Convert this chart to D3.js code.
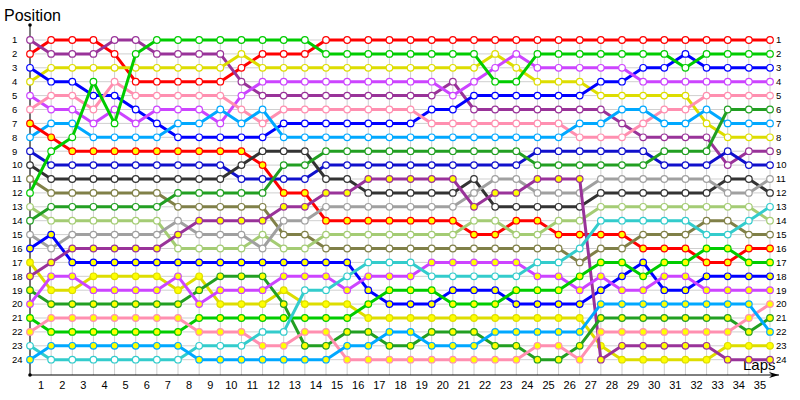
<!DOCTYPE html>
<html>
<head>
<meta charset="utf-8">
<script src="https://cdn.jsdelivr.net/npm/d3@7"></script>
<style>
  body { margin: 0; background: #fff; }
  svg { display: block; font-family: "Liberation Sans", Arial, sans-serif; }
</style>
</head>
<body>
<svg id="chart" width="800" height="400"></svg>
<script>
// position of each car at laps 0..35
var laps = [0,1,2,3,4,5,6,7,8,9,10,11,12,13,14,15,16,17,18,19,20,21,22,23,24,25,26,27,28,29,30,31,32,33,34,35];
var lapLabels = [1,2,3,4,5,6,7,8,9,10,11,12,13,14,15,16,17,18,19,20,21,22,23,24,25,26,27,28,29,30,31,32,33,34,35];
var positions = [1,2,3,4,5,6,7,8,9,10,11,12,13,14,15,16,17,18,19,20,21,22,23,24];

var red_a    = [2,1,1,1,2,4,4,4,4,4,3,2,2,2,1,1,1,1,1,1,1,1,1,1,1,1,1,1,1,1,1,1,1,1,1,1];
var purple_a = [1,2,2,2,1,1,2,2,2,2,4,5,5,5,5,5,5,5,5,5,4,6,6,6,6,6,6,6,7,8,8,8,8,10,9,9];
var yellow_a = [4,3,3,3,3,3,3,3,3,3,2,3,3,3,3,3,3,3,3,3,3,3,2,3,4,4,4,5,5,5,5,5,7,8,8,8];
var blue_a   = [3,4,4,5,5,6,7,8,8,8,8,8,7,7,7,7,7,7,7,6,6,5,5,5,5,5,5,4,4,3,3,2,3,3,3,3];
var violet_a = [5,6,6,7,6,7,6,6,6,7,5,4,4,4,4,4,4,4,4,4,5,4,3,2,3,3,3,3,3,4,4,4,4,4,4,4];
var pink_a   = [6,5,5,6,4,5,5,5,5,5,6,7,6,6,6,6,6,6,6,7,7,7,7,7,7,7,8,8,8,7,6,6,5,5,5,5];
var sky_a    = [8,7,7,8,8,8,8,7,7,6,7,6,8,8,8,8,8,8,8,8,8,8,8,8,8,8,7,7,6,6,7,7,6,7,7,7];
var red_b    = [7,8,9,9,9,9,9,9,9,9,9,10,12,12,14,14,14,14,14,14,14,15,15,14,14,15,15,15,15,16,16,16,17,17,16,16];
var navy_a   = [9,10,10,10,10,10,10,10,10,10,11,11,11,11,10,10,10,10,10,10,10,10,10,10,9,9,9,9,9,9,10,10,10,9,10,10];
var dark_a   = [10,11,11,11,11,11,11,11,11,11,10,9,9,9,11,11,12,12,12,12,12,11,13,13,13,13,13,12,12,12,12,12,12,11,11,12];
var olive_a  = [11,12,12,12,12,12,12,13,13,13,13,13,15,15,16,16,16,16,16,16,16,16,16,16,16,16,17,16,16,15,15,15,14,14,15,15];
var green_a  = [12,9,8,4,7,2,1,1,1,1,1,1,1,1,2,2,2,2,2,2,2,2,4,4,2,2,2,2,2,2,2,3,2,2,2,2];
var lime_a   = [13,14,14,14,14,14,14,16,16,16,16,15,16,16,15,15,15,15,15,15,15,14,14,15,15,14,14,13,13,13,13,13,13,13,13,14];
var dgreen_a = [14,13,13,13,13,13,13,12,12,12,12,12,10,10,9,9,9,9,9,9,9,9,9,9,10,10,10,10,10,10,9,9,9,6,6,6];
var gray_a   = [15,16,15,15,15,15,15,14,15,15,15,16,14,14,13,13,13,13,13,13,13,12,11,11,12,12,12,11,11,11,11,11,11,12,12,11];
var blue_b   = [16,15,17,17,17,17,17,17,17,17,17,17,17,17,17,17,19,20,20,20,19,19,19,20,20,20,20,19,18,17,19,19,18,18,18,18];
var yellow_b = [17,19,19,18,18,18,18,19,18,20,20,20,19,20,20,20,21,21,21,21,21,21,21,21,21,21,21,23,24,24,24,24,24,23,23,23];
var purple_b = [18,17,16,16,16,16,16,15,14,14,14,14,13,13,12,12,11,11,11,11,11,13,12,12,11,11,11,24,23,23,23,23,23,24,24,24];
var dgreen_b = [19,20,20,20,20,20,20,20,19,18,18,18,20,23,23,22,22,23,23,22,22,22,23,23,24,24,23,21,21,21,21,21,21,21,22,21];
var violet_b = [20,18,18,19,19,19,19,18,20,19,19,19,18,18,18,19,18,18,18,17,17,17,17,17,18,18,19,18,19,19,18,18,19,19,19,19];
var green_b  = [21,22,22,22,22,22,22,22,21,21,21,21,21,21,21,21,20,19,19,19,20,20,20,19,19,19,18,17,17,18,17,17,16,16,17,17];
var pink_b   = [22,21,21,21,21,21,21,21,22,22,22,23,23,22,22,24,24,24,24,24,24,24,24,24,23,23,24,22,22,22,22,22,22,22,21,20];
var cyan_a   = [23,24,24,24,24,24,24,24,23,23,23,22,22,19,19,18,17,17,17,18,18,18,18,18,17,17,16,14,14,14,14,14,15,15,14,13];
var sky_b    = [24,23,23,23,23,23,23,23,24,24,24,24,24,24,24,23,23,22,22,23,23,23,22,22,22,22,22,20,20,20,20,20,20,20,20,22];

var series = [red_a, purple_a, yellow_a, blue_a, violet_a, pink_a, sky_a, red_b, navy_a, dark_a, olive_a, green_a,
              lime_a, dgreen_a, gray_a, blue_b, yellow_b, purple_b, dgreen_b, violet_b, green_b, pink_b, cyan_a, sky_b];
var colors = ["#ff0000", "#993399", "#dddd00", "#0000ff", "#cc44ff", "#ff8fb0", "#00a8ff", "#ff0000", "#1010cc", "#333333", "#808048", "#00cc00",
              "#a4cc74", "#229f22", "#a0a0a0", "#0000ff", "#dddd00", "#993399", "#229f22", "#cc44ff", "#00cc00", "#ff8fb0", "#33cccc", "#00a8ff"];
var fills = ["#fff","#fff","#fff","#fff","#fff","#fff","#fff","#ffff00","#fff","#fff","#fff","#fff",
             "#fff","#fff","#fff","#ffff00","#ffff00","#ffff00","#ffff00","#ffff00","#ffff00","#ffff00","#fff","#ffff00"];

var svg = d3.select("#chart");
var x = d3.scaleLinear().domain([0, 35]).range([30, 770]);
var y = d3.scaleLinear().domain([1, 24]).range([40, 359.7]);
var axisY = 375;

// grid
svg.append("g").selectAll("line.v")
    .data(laps)
    .enter().append("line")
    .attr("x1", d => x(d)).attr("x2", d => x(d))
    .attr("y1", y(1)).attr("y2", axisY)
    .attr("stroke", "#cfcfcf").attr("stroke-width", 1);
svg.append("g").selectAll("line.h")
    .data(positions)
    .enter().append("line")
    .attr("x1", x(0)).attr("x2", x(35))
    .attr("y1", d => y(d)).attr("y2", d => y(d))
    .attr("stroke", "#cfcfcf").attr("stroke-width", 1);

// axes
var defs = svg.append("defs");
defs.append("marker").attr("id", "arrow")
    .attr("viewBox", "0 0 10 6").attr("refX", 10).attr("refY", 3)
    .attr("markerWidth", 10).attr("markerHeight", 6).attr("markerUnits", "userSpaceOnUse")
    .attr("orient", "auto")
    .append("path").attr("d", "M0,0 L10,3 L0,6 L3,3 Z").attr("fill", "#000");

svg.append("line").attr("x1", x(0)).attr("x2", x(0)).attr("y1", 25).attr("y2", axisY)
    .attr("stroke", "#000").attr("stroke-width", 1);
svg.append("circle").attr("cx", x(0)).attr("cy", 25).attr("r", 1.8).attr("fill", "#000");
svg.append("circle").attr("cx", x(0)).attr("cy", axisY).attr("r", 1.8).attr("fill", "#000");
svg.append("line").attr("x1", x(0)).attr("x2", 779).attr("y1", axisY).attr("y2", axisY)
    .attr("stroke", "#000").attr("stroke-width", 1).attr("marker-end", "url(#arrow)");

var xAxis = d3.axisBottom(x)
    .tickValues(lapLabels.map(d => d - 0.5))
    .tickFormat((d, i) => lapLabels[i])
    .tickSize(0).tickPadding(6);
var gx = svg.append("g").attr("transform", "translate(0," + axisY + ")").call(xAxis);
gx.select(".domain").remove();
gx.selectAll("text").attr("font-size", 11).attr("fill", "#000")
    .attr("font-family", "Liberation Sans, Arial, sans-serif");

// position labels, both sides
svg.append("g").selectAll("text")
    .data(positions)
    .enter().append("text")
    .attr("x", 12).attr("y", d => y(d)).attr("dy", "0.35em")
    .attr("font-size", 9.5).text(d => d);
svg.append("g").selectAll("text")
    .data(positions)
    .enter().append("text")
    .attr("x", 776).attr("y", d => y(d)).attr("dy", "0.35em")
    .attr("font-size", 9.5).text(d => d);

svg.append("text").attr("x", 4).attr("y", 21).attr("font-size", 16).text("Position");
svg.append("text").attr("x", 743).attr("y", 370).attr("font-size", 15).text("Laps");

// lines and markers
var line = d3.line().x((d, i) => x(laps[i])).y(d => y(d));

series.forEach(function(s, k) {
    var g = svg.append("g");
    g.append("path")
        .datum(s)
        .attr("d", line)
        .attr("fill", "none")
        .attr("stroke", colors[k])
        .attr("stroke-width", 3)
        .attr("stroke-linejoin", "round");
    g.selectAll("circle")
        .data(s)
        .enter().append("circle")
        .attr("cx", (d, i) => x(laps[i]))
        .attr("cy", d => y(d))
        .attr("r", 3.3)
        .attr("fill", fills[k])
        .attr("stroke", colors[k])
        .attr("stroke-width", 1.2);
});
</script>
</body>
</html>
